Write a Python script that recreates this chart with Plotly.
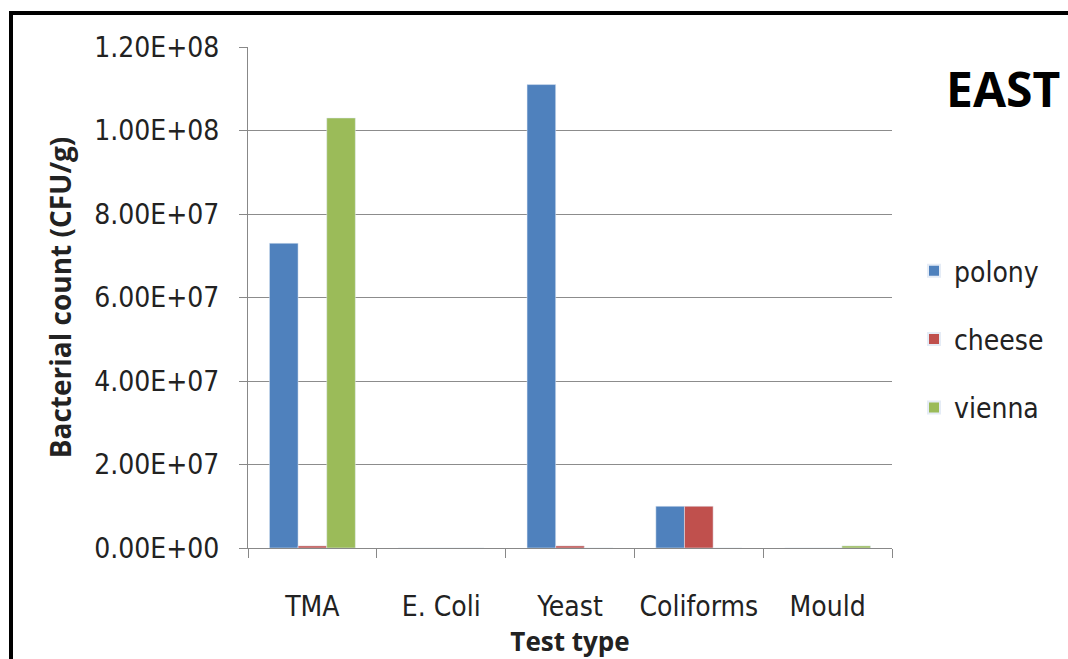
import plotly.graph_objects as go

categories = ["TMA", "E. Coli", "Yeast", "Coliforms", "Mould"]
polony = [7.3e7, 0, 1.11e8, 1.0e7, 0]
cheese = [5e5, 0, 5e5, 1.0e7, 0]
vienna = [1.03e8, 0, 0, 0, 5e5]
y_ticks = [0, 2e7, 4e7, 6e7, 8e7, 1e8, 1.2e8]
y_tick_text = ["0.00E+00", "2.00E+07", "4.00E+07", "6.00E+07", "8.00E+07", "1.00E+08", "1.20E+08"]

FONT = "'Liberation Sans Narrow', 'DejaVu Sans Condensed', Arial, sans-serif"

fig = go.Figure()
fig.add_bar(name="polony", x=categories, y=polony, marker_color="#4F81BD", legendgroup="a")
fig.add_bar(name="cheese", x=categories, y=cheese, marker_color="#C0504D", legendgroup="b")
fig.add_bar(name="vienna", x=categories, y=vienna, marker_color="#9BBB59", legendgroup="c")

L, R, T, B = 248, 176, 47, 111
W, H = 1068, 659
pw, ph = W - L - R, H - T - B

def px_x(p):
    return (p - L) / pw

def px_y(p):
    return (H - B - p) / ph

fig.update_layout(
    width=W, height=H,
    margin=dict(l=L, r=R, t=T, b=B, autoexpand=False),
    paper_bgcolor="white", plot_bgcolor="white",
    barmode="group", bargap=0.333, bargroupgap=0,
    font=dict(family=FONT, size=28, color="#222"),
    legend=dict(x=px_x(914), y=px_y(246), xanchor="left", yanchor="top",
                font=dict(size=28), tracegroupgap=29, itemsizing="constant",
                bgcolor="rgba(0,0,0,0)"),
    showlegend=True,
    xaxis=dict(
        type="category", tickson="boundaries", ticks="outside", ticklen=9,
        tickcolor="#888", showline=True, linecolor="#888", linewidth=1,
        showgrid=False, tickfont=dict(size=28), ticklabelstandoff=33,
        title=dict(text="<b>Test type</b>", font=dict(size=26, family="'Open Sans', sans-serif"), standoff=0),
        automargin=False,
    ),
    yaxis=dict(
        range=[0, 1.2e8], tickvals=y_ticks, ticktext=y_tick_text,
        ticks="outside", ticklen=8, tickcolor="#888",
        showline=True, linecolor="#888", linewidth=1,
        showgrid=True, gridcolor="#8c8c8c", gridwidth=1,
        tickfont=dict(size=28), ticklabelstandoff=14,
        zeroline=False,
        title=dict(text="<b>Bacterial count (CFU/g)</b>", font=dict(size=28, family="'Open Sans', sans-serif"), standoff=14),
        automargin=False,
    ),
    annotations=[dict(text="<b>EAST</b>", x=px_x(1062), y=px_y(88), xref="paper", yref="paper",
                      xanchor="right", yanchor="middle", showarrow=False,
                      font=dict(size=48, family="'Open Sans', sans-serif", color="black"))],
    shapes=[dict(type="rect", xref="paper", yref="paper",
                 x0=px_x(11), x1=px_x(1090), y0=px_y(13), y1=px_y(700),
                 line=dict(color="black", width=4), layer="above")],
)

fig.write_html("out.html")
